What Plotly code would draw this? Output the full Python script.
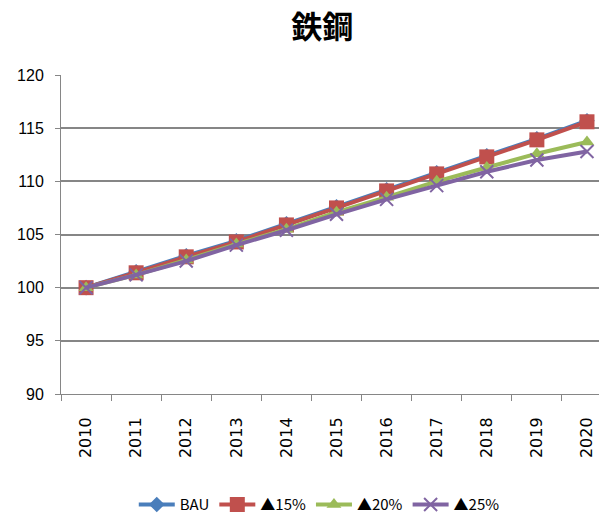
import plotly.graph_objects as go

years = ["2010", "2011", "2012", "2013", "2014", "2015", "2016", "2017", "2018", "2019", "2020"]
bau = [100, 101.5, 103.0, 104.4, 106.0, 107.6, 109.2, 110.8, 112.4, 114.0, 115.7]
cut15 = [100, 101.4, 102.9, 104.3, 105.9, 107.5, 109.1, 110.7, 112.3, 113.9, 115.6]
cut20 = [100, 101.2, 102.6, 104.1, 105.5, 107.1, 108.5, 110.0, 111.3, 112.6, 113.7]
cut25 = [100, 101.2, 102.5, 104.0, 105.4, 106.9, 108.3, 109.6, 110.9, 112.0, 112.8]
names = ["BAU", "▲15%", "▲20%", "▲25%"]

series = [
    (bau, names[0], "#4A7EBB", "diamond", 12),
    (cut15, names[1], "#C0504D", "square", 15),
    (cut20, names[2], "#9BBB59", "triangle-up", 13),
    (cut25, names[3], "#8064A2", "x-thin", 13),
]

fig = go.Figure()
for vals, name, color, sym, size in series:
    marker = dict(symbol=sym, size=size, color=color)
    if sym == "x-thin":
        marker["line"] = dict(color=color, width=2)
    fig.add_trace(go.Scatter(
        x=years, y=vals, name=name, mode="lines+markers",
        line=dict(color=color, width=4),
        marker=marker,
    ))

font_main = "Liberation Sans Narrow, Liberation Sans, Arial"

fig.update_layout(
    width=599, height=514,
    margin=dict(l=61, r=0, t=75, b=120, autoexpand=False),
    paper_bgcolor="white", plot_bgcolor="white",
    title=dict(text="<b>鉄鋼</b>", x=0.538, xanchor="center", y=0.948, yanchor="middle",
               font=dict(family="Noto Sans CJK JP", size=31, color="black")),
    font=dict(family=font_main, size=15, color="black"),
    showlegend=True,
    legend=dict(orientation="h", xref="container", yref="container",
                x=0.533, xanchor="center", y=0.018, yanchor="middle",
                font=dict(family="Noto Sans CJK JP, Liberation Sans", size=15, color="black"),
                itemwidth=36, tracegroupgap=0),
    xaxis=dict(
        type="category", range=[-0.5, 10.24], automargin=False,
        tickson="boundaries", ticks="outside", ticklen=6, tickcolor="#868686",
        showline=True, linecolor="#868686", linewidth=1,
        showgrid=False, tickangle=-90, ticklabelstandoff=16,
        tickfont=dict(family="DejaVu Sans", size=16, color="black"),
    ),
    yaxis=dict(
        range=[90, 120], tickvals=[90, 95, 100, 105, 110, 115, 120],
        automargin=False,
        ticks="outside", ticklen=5, tickcolor="#868686",
        showline=True, linecolor="#868686", linewidth=1,
        showgrid=True, gridcolor="#868686", gridwidth=1.5,
        zeroline=False, ticklabelstandoff=8,
        tickfont=dict(family=font_main, size=16, color="black"),
    ),
)

fig.write_html("out.html")
